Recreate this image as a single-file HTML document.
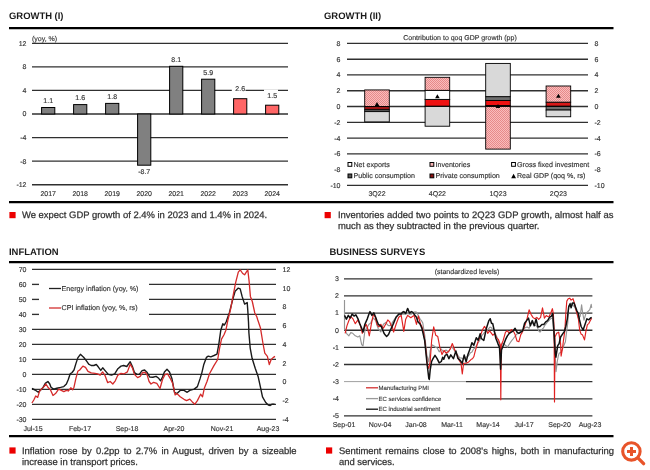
<!DOCTYPE html>
<html><head><meta charset="utf-8"><style>
html,body{margin:0;padding:0;background:#fff;width:650px;height:470px;overflow:hidden;}
body{position:relative;font-family:"Liberation Sans", sans-serif;text-rendering:geometricPrecision;}
text{text-rendering:geometricPrecision;}
svg{position:absolute;left:0;top:0;will-change:transform;}
.ax{font-family:"Liberation Sans", sans-serif;font-size:7px;fill:#333;stroke:#333;stroke-width:0.15px;}
.lg{font-family:"Liberation Sans", sans-serif;font-size:7.1px;fill:#333;stroke:#333;stroke-width:0.15px;}
.bl{font-family:"Liberation Sans", sans-serif;font-size:6px;fill:#333;stroke:#333;stroke-width:0.12px;}
.tt{font-family:"Liberation Sans", sans-serif;font-size:9.45px;font-weight:bold;fill:#1a1a1a;}
.p{position:absolute;font-size:9.45px;line-height:11.4px;color:#333;text-align:justify;white-space:nowrap;-webkit-text-stroke:0.25px #333;}
.p1{text-align-last:justify;white-space:normal;height:11.4px;overflow:visible;}
.p{will-change:transform;}
</style></head><body>
<svg width="650" height="470" viewBox="0 0 650 470">
<defs>
<pattern id="hatch" patternUnits="userSpaceOnUse" x="0" y="0" width="2" height="2">
<rect width="2" height="2" fill="#fabcbc"/><rect x="0" y="0" width="1" height="1" fill="#e68a8a"/><rect x="1" y="1" width="1" height="1" fill="#e68a8a"/>
</pattern>
</defs>
<line x1="9" y1="28.2" x2="613.5" y2="28.2" stroke="#000" stroke-width="2.2"/>
<line x1="9" y1="202.2" x2="613.5" y2="202.2" stroke="#000" stroke-width="2.2"/>
<line x1="9" y1="262.2" x2="613.5" y2="262.2" stroke="#000" stroke-width="2.2"/>
<line x1="9" y1="436.2" x2="613.5" y2="436.2" stroke="#000" stroke-width="2.2"/>
<line x1="32" y1="43.3" x2="288" y2="43.3" stroke="#303030" stroke-width="1.35"/>
<text x="26.5" y="45.7" text-anchor="end" class="ax">12</text>
<line x1="32" y1="66.9" x2="288" y2="66.9" stroke="#303030" stroke-width="1.35"/>
<text x="26.5" y="69.3" text-anchor="end" class="ax">8</text>
<line x1="32" y1="90.4" x2="288" y2="90.4" stroke="#303030" stroke-width="1.35"/>
<text x="26.5" y="92.8" text-anchor="end" class="ax">4</text>
<line x1="32" y1="114.0" x2="288" y2="114.0" stroke="#303030" stroke-width="1.35"/>
<text x="26.5" y="116.4" text-anchor="end" class="ax">0</text>
<line x1="32" y1="137.6" x2="288" y2="137.6" stroke="#303030" stroke-width="1.35"/>
<text x="26.5" y="140.0" text-anchor="end" class="ax">-4</text>
<line x1="32" y1="161.1" x2="288" y2="161.1" stroke="#303030" stroke-width="1.35"/>
<text x="26.5" y="163.5" text-anchor="end" class="ax">-8</text>
<line x1="32" y1="184.7" x2="288" y2="184.7" stroke="#303030" stroke-width="1.35"/>
<text x="26.5" y="187.1" text-anchor="end" class="ax">-12</text>
<text x="32" y="40.5" class="ax">(yoy, %)</text>
<rect x="41.6" y="107.5" width="13.2" height="6.5" fill="#808080" stroke="#000" stroke-width="1"/>
<text x="48.2" y="102.9" text-anchor="middle" class="ax">1.1</text>
<text x="48.2" y="196" text-anchor="middle" class="ax">2017</text>
<rect x="73.6" y="104.6" width="13.2" height="9.4" fill="#808080" stroke="#000" stroke-width="1"/>
<text x="80.2" y="100.0" text-anchor="middle" class="ax">1.6</text>
<text x="80.2" y="196" text-anchor="middle" class="ax">2018</text>
<rect x="105.6" y="103.4" width="13.2" height="10.6" fill="#808080" stroke="#000" stroke-width="1"/>
<text x="112.2" y="98.8" text-anchor="middle" class="ax">1.8</text>
<text x="112.2" y="196" text-anchor="middle" class="ax">2019</text>
<rect x="137.6" y="114.0" width="13.2" height="51.2" fill="#808080" stroke="#000" stroke-width="1"/>
<text x="144.2" y="174.2" text-anchor="middle" class="ax">-8.7</text>
<text x="144.2" y="196" text-anchor="middle" class="ax">2020</text>
<rect x="169.6" y="66.3" width="13.2" height="47.7" fill="#808080" stroke="#000" stroke-width="1"/>
<text x="176.2" y="61.7" text-anchor="middle" class="ax">8.1</text>
<text x="176.2" y="196" text-anchor="middle" class="ax">2021</text>
<rect x="201.6" y="79.2" width="13.2" height="34.8" fill="#808080" stroke="#000" stroke-width="1"/>
<text x="208.2" y="74.6" text-anchor="middle" class="ax">5.9</text>
<text x="208.2" y="196" text-anchor="middle" class="ax">2022</text>
<rect x="233.6" y="98.7" width="13.2" height="15.3" fill="#ff6666" stroke="#000" stroke-width="1"/>
<rect x="231.8" y="84" width="13.7" height="8" fill="#fff"/>
<text x="240.2" y="91.2" text-anchor="middle" class="ax">2.6</text>
<text x="240.2" y="196" text-anchor="middle" class="ax">2023</text>
<rect x="265.6" y="105.2" width="13.2" height="8.8" fill="#ff6666" stroke="#000" stroke-width="1"/>
<rect x="264" y="89.5" width="14" height="9" fill="#fff"/>
<text x="272.2" y="97.9" text-anchor="middle" class="ax">1.5</text>
<text x="272.2" y="196" text-anchor="middle" class="ax">2024</text>
<line x1="347" y1="43.4" x2="588" y2="43.4" stroke="#303030" stroke-width="1.35"/>
<text x="340.5" y="45.8" text-anchor="end" class="ax">8</text>
<text x="594.5" y="45.8" class="ax">8</text>
<line x1="347" y1="59.2" x2="588" y2="59.2" stroke="#303030" stroke-width="1.35"/>
<text x="340.5" y="61.6" text-anchor="end" class="ax">6</text>
<text x="594.5" y="61.6" class="ax">6</text>
<line x1="347" y1="74.9" x2="588" y2="74.9" stroke="#303030" stroke-width="1.35"/>
<text x="340.5" y="77.3" text-anchor="end" class="ax">4</text>
<text x="594.5" y="77.3" class="ax">4</text>
<line x1="347" y1="90.7" x2="588" y2="90.7" stroke="#303030" stroke-width="1.35"/>
<text x="340.5" y="93.1" text-anchor="end" class="ax">2</text>
<text x="594.5" y="93.1" class="ax">2</text>
<line x1="347" y1="106.5" x2="588" y2="106.5" stroke="#303030" stroke-width="1.35"/>
<text x="340.5" y="108.9" text-anchor="end" class="ax">0</text>
<text x="594.5" y="108.9" class="ax">0</text>
<line x1="347" y1="122.3" x2="588" y2="122.3" stroke="#303030" stroke-width="1.35"/>
<text x="340.5" y="124.7" text-anchor="end" class="ax">-2</text>
<text x="594.5" y="124.7" class="ax">-2</text>
<line x1="347" y1="138.1" x2="588" y2="138.1" stroke="#303030" stroke-width="1.35"/>
<text x="340.5" y="140.5" text-anchor="end" class="ax">-4</text>
<text x="594.5" y="140.5" class="ax">-4</text>
<line x1="347" y1="153.8" x2="588" y2="153.8" stroke="#303030" stroke-width="1.35"/>
<text x="340.5" y="156.2" text-anchor="end" class="ax">-6</text>
<text x="594.5" y="156.2" class="ax">-6</text>
<text x="340.5" y="172.0" text-anchor="end" class="ax">-8</text>
<text x="594.5" y="172.0" class="ax">-8</text>
<line x1="347" y1="185.4" x2="588" y2="185.4" stroke="#303030" stroke-width="1.35"/>
<text x="340.5" y="187.8" text-anchor="end" class="ax">-10</text>
<text x="594.5" y="187.8" class="ax">-10</text>
<text x="460" y="40" text-anchor="middle" class="ax">Contribution to qoq GDP growth (pp)</text>
<rect x="364.7" y="89.93" width="24.6" height="16.57" fill="url(#hatch)" stroke="#000" stroke-width="0.9"/>
<rect x="364.7" y="106.50" width="24.6" height="3.31" fill="#9a1515" stroke="#000" stroke-width="0.9"/>
<rect x="364.7" y="109.81" width="24.6" height="1.81" fill="#6e6e6e" stroke="#000" stroke-width="0.9"/>
<rect x="364.7" y="111.63" width="24.6" height="10.26" fill="#d9d9d9" stroke="#000" stroke-width="0.9"/>
<path d="M374.7,106.1 L377.0,102.1 L379.3,106.1 Z" fill="#000"/>
<rect x="425.1" y="106.11" width="24.6" height="0.39" fill="#9a1515" stroke="#000" stroke-width="0.9"/>
<rect x="425.1" y="99.40" width="24.6" height="6.71" fill="#ee1111" stroke="#000" stroke-width="0.9"/>
<rect x="425.1" y="90.33" width="24.6" height="9.07" fill="#fff" stroke="#000" stroke-width="0.9"/>
<rect x="425.1" y="77.31" width="24.6" height="13.02" fill="url(#hatch)" stroke="#000" stroke-width="0.9"/>
<rect x="425.1" y="106.50" width="24.6" height="19.72" fill="#d9d9d9" stroke="#000" stroke-width="0.9"/>
<path d="M435.1,98.2 L437.4,94.2 L439.7,98.2 Z" fill="#000"/>
<rect x="485.7" y="105.55" width="24.6" height="0.95" fill="#9a1515" stroke="#000" stroke-width="0.9"/>
<rect x="485.7" y="100.42" width="24.6" height="5.13" fill="#ee1111" stroke="#000" stroke-width="0.9"/>
<rect x="485.7" y="96.64" width="24.6" height="3.79" fill="#6e6e6e" stroke="#000" stroke-width="0.9"/>
<rect x="485.7" y="63.42" width="24.6" height="33.22" fill="#d9d9d9" stroke="#000" stroke-width="0.9"/>
<rect x="485.7" y="106.50" width="24.6" height="42.61" fill="url(#hatch)" stroke="#000" stroke-width="0.9"/>
<path d="M495.7,108.1 L498.0,104.1 L500.3,108.1 Z" fill="#000"/>
<rect x="546.1" y="106.11" width="24.6" height="0.39" fill="#9a1515" stroke="#000" stroke-width="0.9"/>
<rect x="546.1" y="102.16" width="24.6" height="3.95" fill="#d81818" stroke="#000" stroke-width="0.9"/>
<rect x="546.1" y="85.99" width="24.6" height="16.17" fill="url(#hatch)" stroke="#000" stroke-width="0.9"/>
<rect x="546.1" y="106.50" width="24.6" height="3.55" fill="#6e6e6e" stroke="#000" stroke-width="0.9"/>
<rect x="546.1" y="110.05" width="24.6" height="6.71" fill="#d9d9d9" stroke="#000" stroke-width="0.9"/>
<path d="M556.1,97.8 L558.4,93.8 L560.7,97.8 Z" fill="#000"/>
<text x="377.0" y="196" text-anchor="middle" class="ax">3Q22</text>
<text x="437.4" y="196" text-anchor="middle" class="ax">4Q22</text>
<text x="498.0" y="196" text-anchor="middle" class="ax">1Q23</text>
<text x="558.4" y="196" text-anchor="middle" class="ax">2Q23</text>
<rect x="346" y="158" width="242" height="24" fill="#fff"/>
<rect x="348.0" y="162.5" width="3.8" height="3.8" fill="#fff" stroke="#000" stroke-width="1"/>
<text x="353.5" y="166.8" class="lg">Net exports</text>
<rect x="430.0" y="162.5" width="3.8" height="3.8" fill="#f8b4b4" stroke="#000" stroke-width="1"/>
<text x="435.5" y="166.8" class="lg">Inventories</text>
<rect x="511.6" y="162.5" width="3.8" height="3.8" fill="#fff" stroke="#000" stroke-width="1"/>
<text x="517.1" y="166.8" class="lg">Gross fixed investment</text>
<rect x="348.0" y="174.0" width="3.8" height="3.8" fill="#555" stroke="#000" stroke-width="1"/>
<text x="353.5" y="178.3" class="lg">Public consumption</text>
<rect x="430.0" y="174.0" width="3.8" height="3.8" fill="#8a1010" stroke="#000" stroke-width="1"/>
<text x="435.5" y="178.3" class="lg">Private consumption</text>
<path d="M511.2,178.2 L513.6,173.8 L516,178.2 Z" fill="#000"/>
<text x="517" y="178.3" class="lg">Real GDP (qoq %, rs)</text>
<line x1="32" y1="269.4" x2="276" y2="269.4" stroke="#303030" stroke-width="1.35"/>
<text x="26.5" y="271.8" text-anchor="end" class="ax">70</text>
<line x1="32" y1="284.4" x2="39" y2="284.4" stroke="#303030" stroke-width="1.35"/>
<line x1="149" y1="284.4" x2="276" y2="284.4" stroke="#303030" stroke-width="1.35"/>
<text x="26.5" y="286.8" text-anchor="end" class="ax">60</text>
<line x1="32" y1="299.4" x2="39" y2="299.4" stroke="#303030" stroke-width="1.35"/>
<line x1="149" y1="299.4" x2="276" y2="299.4" stroke="#303030" stroke-width="1.35"/>
<text x="26.5" y="301.8" text-anchor="end" class="ax">50</text>
<line x1="32" y1="314.4" x2="39" y2="314.4" stroke="#303030" stroke-width="1.35"/>
<line x1="149" y1="314.4" x2="276" y2="314.4" stroke="#303030" stroke-width="1.35"/>
<text x="26.5" y="316.8" text-anchor="end" class="ax">40</text>
<line x1="32" y1="329.4" x2="276" y2="329.4" stroke="#303030" stroke-width="1.35"/>
<text x="26.5" y="331.8" text-anchor="end" class="ax">30</text>
<line x1="32" y1="344.4" x2="276" y2="344.4" stroke="#303030" stroke-width="1.35"/>
<text x="26.5" y="346.8" text-anchor="end" class="ax">20</text>
<line x1="32" y1="359.4" x2="276" y2="359.4" stroke="#303030" stroke-width="1.35"/>
<text x="26.5" y="361.8" text-anchor="end" class="ax">10</text>
<line x1="32" y1="374.4" x2="276" y2="374.4" stroke="#303030" stroke-width="1.35"/>
<text x="26.5" y="376.8" text-anchor="end" class="ax">0</text>
<line x1="32" y1="389.4" x2="276" y2="389.4" stroke="#303030" stroke-width="1.35"/>
<text x="26.5" y="391.8" text-anchor="end" class="ax">-10</text>
<line x1="32" y1="404.4" x2="276" y2="404.4" stroke="#303030" stroke-width="1.35"/>
<text x="26.5" y="406.8" text-anchor="end" class="ax">-20</text>
<line x1="32" y1="419.4" x2="276" y2="419.4" stroke="#303030" stroke-width="1.35"/>
<text x="26.5" y="421.8" text-anchor="end" class="ax">-30</text>
<text x="282.5" y="271.8" class="ax">12</text>
<text x="282.5" y="290.5" class="ax">10</text>
<text x="282.5" y="309.3" class="ax">8</text>
<text x="282.5" y="328.0" class="ax">6</text>
<text x="282.5" y="346.8" class="ax">4</text>
<text x="282.5" y="365.5" class="ax">2</text>
<text x="282.5" y="384.3" class="ax">0</text>
<text x="282.5" y="403.0" class="ax">-2</text>
<text x="282.5" y="421.8" class="ax">-4</text>
<text x="33" y="430.5" text-anchor="middle" class="ax">Jul-15</text>
<text x="80" y="430.5" text-anchor="middle" class="ax">Feb-17</text>
<text x="127" y="430.5" text-anchor="middle" class="ax">Sep-18</text>
<text x="174" y="430.5" text-anchor="middle" class="ax">Apr-20</text>
<text x="222" y="430.5" text-anchor="middle" class="ax">Nov-21</text>
<text x="268" y="430.5" text-anchor="middle" class="ax">Aug-23</text>
<line x1="49" y1="288.5" x2="61" y2="288.5" stroke="#222" stroke-width="1.3"/>
<text x="61.5" y="290.9" class="ax" style="font-size:7.15px">Energy inflation (yoy, %)</text>
<line x1="49" y1="308" x2="61" y2="308" stroke="#d32f2f" stroke-width="1.3"/>
<text x="61.5" y="310.4" class="ax" style="font-size:7.15px">CPI inflation (yoy, %, rs)</text>
<polyline points="31.9,388.5 35.1,390.0 38.3,392.3 40.2,390.4 42.8,387.8 45.3,383.4 47.9,381.5 49.8,384.0 51.0,387.2 53.6,389.1 56.8,388.2 60.6,387.4 63.8,386.6 66.4,384.0 68.3,379.5 70.2,373.8 72.1,372.5 74.0,370.0 75.9,363.6 77.8,357.9 80.4,354.3 83.6,357.2 86.1,360.4 88.7,364.2 91.2,365.5 93.8,365.5 96.3,364.5 98.2,366.8 100.8,370.4 102.7,367.8 105.1,370.6 108.3,374.4 111.5,375.1 114.7,373.8 117.9,368.7 121.0,366.1 123.6,365.5 126.8,366.5 130.2,361.7 132.5,366.8 134.4,372.5 137.0,374.4 139.5,374.2 142.1,370.6 144.6,370.0 147.2,372.5 149.7,377.0 152.9,377.2 156.1,376.4 158.7,378.3 160.6,380.8 162.5,377.0 164.4,371.9 167.0,369.3 169.5,371.9 171.9,378.5 174.5,392.3 177.0,393.6 180.2,390.4 184.0,390.4 187.2,392.3 189.8,390.4 194.2,389.1 197.4,386.6 200.0,378.9 201.9,372.6 203.8,364.4 206.4,357.4 208.3,356.1 210.8,356.8 214.0,355.5 217.0,354.2 218.9,343.6 220.8,330.2 222.8,323.8 224.3,325.1 226.1,322.0 229.3,313.0 232.5,300.3 235.1,291.3 238.3,288.1 240.2,288.8 242.1,296.4 244.6,304.1 247.2,302.6 247.8,310.5 248.5,322.0 248.9,332.8 250.2,348.1 252.1,358.3 255.3,368.5 258.1,376.4 260.6,387.9 262.5,396.8 265.7,402.5 268.3,405.1 270.2,405.5 272.1,404.2 274.6,404.2" fill="none" stroke="#1a1a1a" stroke-width="1.4" stroke-linejoin="round"/>
<polyline points="31.9,403.0 33.8,400.0 35.7,396.0 37.7,397.4 39.6,391.0 41.5,389.1 44.0,386.6 45.9,384.0 47.9,387.2 50.4,389.7 53.0,395.5 55.5,393.6 58.7,389.1 61.3,390.4 63.8,391.7 66.4,390.4 68.3,391.0 70.8,387.8 72.7,389.7 74.0,387.2 75.9,378.3 77.8,371.3 79.7,370.0 82.9,366.1 85.5,367.4 88.0,371.3 91.2,372.9 95.0,373.4 97.6,373.8 100.2,375.1 102.6,371.9 105.1,375.7 107.7,382.7 110.2,381.5 112.8,384.0 115.3,380.8 117.9,375.1 121.0,373.4 124.2,373.8 127.4,371.9 130.2,364.2 132.5,368.1 134.4,374.4 137.6,377.6 140.2,376.4 142.7,372.5 145.3,372.5 147.2,375.1 149.1,381.5 151.0,384.0 153.6,382.3 156.8,383.4 160.0,388.5 162.5,379.5 165.1,374.4 167.6,373.8 170.2,378.3 172.7,383.4 175.1,394.9 177.0,393.6 180.2,396.8 184.0,399.3 186.6,400.6 189.8,399.1 192.3,401.9 194.9,404.2 197.4,400.6 200.6,394.2 202.5,396.8 204.4,387.9 207.0,381.5 209.5,373.8 213.8,365.9 217.7,359.5 219.6,348.1 221.5,339.1 224.0,334.7 225.9,330.2 227.9,320.0 230.6,309.2 233.2,295.2 235.7,282.4 238.3,272.2 240.2,269.9 242.7,273.5 244.6,274.8 246.6,271.6 247.8,269.9 249.1,281.1 250.4,296.4 252.3,301.5 254.8,313.0 256.8,316.8 257.8,320.0 260.4,327.7 262.9,343.0 264.8,353.2 267.4,356.4 269.3,364.6 271.2,359.5 273.1,357.6 275.0,356.4" fill="none" stroke="#d42a2a" stroke-width="1.3" stroke-linejoin="round"/>
<line x1="344" y1="278.8" x2="592.4" y2="278.8" stroke="#303030" stroke-width="1.35"/>
<text x="339" y="281.1" text-anchor="end" class="ax">3</text>
<line x1="344" y1="295.9" x2="592.4" y2="295.9" stroke="#303030" stroke-width="1.35"/>
<text x="339" y="298.3" text-anchor="end" class="ax">2</text>
<line x1="344" y1="313.1" x2="592.4" y2="313.1" stroke="#303030" stroke-width="1.35"/>
<text x="339" y="315.4" text-anchor="end" class="ax">1</text>
<line x1="344" y1="330.2" x2="592.4" y2="330.2" stroke="#303030" stroke-width="1.35"/>
<text x="339" y="332.6" text-anchor="end" class="ax">0</text>
<line x1="344" y1="347.3" x2="592.4" y2="347.3" stroke="#303030" stroke-width="1.35"/>
<text x="339" y="349.7" text-anchor="end" class="ax">-1</text>
<line x1="344" y1="364.5" x2="592.4" y2="364.5" stroke="#303030" stroke-width="1.35"/>
<text x="339" y="366.9" text-anchor="end" class="ax">-2</text>
<line x1="344" y1="381.6" x2="466" y2="381.6" stroke="#777" stroke-width="0.7"/>
<line x1="466" y1="381.6" x2="592.4" y2="381.6" stroke="#303030" stroke-width="1.35"/>
<text x="339" y="384.0" text-anchor="end" class="ax">-3</text>
<line x1="466" y1="398.8" x2="592.4" y2="398.8" stroke="#303030" stroke-width="1.35"/>
<text x="339" y="401.2" text-anchor="end" class="ax">-4</text>
<line x1="344" y1="415.9" x2="592.4" y2="415.9" stroke="#303030" stroke-width="1.35"/>
<text x="339" y="418.3" text-anchor="end" class="ax">-5</text>
<text x="467" y="274" text-anchor="middle" class="ax">(standardized levels)</text>
<text x="344" y="426.8" text-anchor="middle" class="ax">Sep-01</text>
<text x="380" y="426.8" text-anchor="middle" class="ax">Nov-04</text>
<text x="416" y="426.8" text-anchor="middle" class="ax">Jan-08</text>
<text x="452" y="426.8" text-anchor="middle" class="ax">Mar-11</text>
<text x="488" y="426.8" text-anchor="middle" class="ax">May-14</text>
<text x="524" y="426.8" text-anchor="middle" class="ax">Jul-17</text>
<text x="559.6" y="426.8" text-anchor="middle" class="ax">Sep-20</text>
<text x="590" y="426.8" text-anchor="middle" class="ax">Aug-23</text>
<line x1="366" y1="387.8" x2="378" y2="387.8" stroke="#d32f2f" stroke-width="1.3"/>
<text x="378.6" y="389.9" class="bl">Manufacturing PMI</text>
<line x1="366" y1="398.6" x2="378" y2="398.6" stroke="#9a9a9a" stroke-width="1.3"/>
<text x="378.6" y="400.7" class="bl">EC services confidence</text>
<line x1="366" y1="409.2" x2="378" y2="409.2" stroke="#111" stroke-width="1.3"/>
<text x="378.6" y="411.3" class="bl">EC industrial sentiment</text>
<polyline points="344.5,300.1 344.5,328.2 346.4,333.3 348.9,335.8 350.8,332.6 352.8,333.3 355.3,335.8 357.9,337.1 359.8,335.8 361.7,344.7 363.0,346.0 364.9,330.7 367.4,326.9 369.0,324.3 370.6,323.1 373.2,318.0 375.7,320.5 377.0,325.3 378.3,328.8 380.8,332.0 383.4,324.3 385.9,322.4 387.2,324.5 388.5,325.6 391.0,325.6 392.3,322.6 393.6,320.5 396.1,316.7 398.7,314.8 400.4,314.6 402.1,314.2 403.8,314.1 405.7,314.1 407.6,313.5 409.5,314.3 411.4,314.1 413.1,312.7 414.7,311.9 416.4,312.1 418.9,316.6 420.2,319.3 421.5,320.7 422.8,323.0 424.7,335.0 426.8,354.6 428.8,362.0 430.2,350.4 432.3,344.9 434.4,346.3 435.8,347.5 437.1,347.7 439.2,351.8 441.3,349.0 443.5,352.0 446.0,350.0 448.5,352.0 451.0,347.0 452.5,347.6 454.0,350.0 455.5,351.9 457.0,354.0 458.5,356.4 460.0,358.0 461.5,358.0 463.0,359.0 464.5,358.8 466.0,357.0 467.5,356.7 469.0,355.0 470.5,352.7 472.0,352.0 473.5,349.1 475.0,348.0 476.5,345.6 478.0,343.0 479.5,340.8 481.0,337.0 482.5,334.8 484.0,333.0 485.5,331.5 487.0,331.0 488.5,328.9 490.0,327.0 491.5,327.7 493.0,330.0 494.5,332.0 496.0,335.0 498.5,341.0 500.5,349.0 502.5,343.0 505.0,345.0 507.5,347.0 510.0,343.0 511.5,340.9 513.0,339.0 514.5,337.0 516.0,335.0 517.5,333.5 519.0,333.0 520.5,331.5 522.0,331.0 523.3,329.0 524.6,328.0 525.9,327.4 527.2,327.0 529.1,328.3 531.0,323.2 532.3,323.4 533.6,324.4 536.1,325.7 537.4,327.4 538.7,330.8 540.0,332.2 541.9,329.4 543.3,328.1 544.8,325.5 546.2,323.7 547.7,321.7 549.1,320.5 550.5,318.8 552.4,317.9 553.9,334.1 555.1,353.3 556.0,371.6 557.2,362.0 558.3,356.0 559.1,353.3 561.1,352.3 563.0,347.5 565.4,341.8 566.3,334.1 567.8,322.7 568.7,306.0 570.6,303.0 572.5,304.9 574.4,306.8 576.4,310.6 578.3,318.3 580.2,316.4 581.6,304.9 582.6,312.5 584.0,320.2 585.9,313.5 587.8,311.6 589.8,309.7 591.2,304.4 591.7,307.8" fill="none" stroke="#959595" stroke-width="1.15" stroke-linejoin="round"/>
<polyline points="345.1,333.3 347.0,325.6 348.9,320.5 350.8,316.7 352.8,318.6 355.3,323.7 357.9,319.9 360.4,325.6 362.3,333.3 364.2,328.2 366.1,324.3 367.4,327.5 369.3,335.8 371.3,324.3 373.2,314.8 375.1,316.7 377.0,324.3 378.9,326.9 380.8,324.3 383.4,328.2 385.9,323.7 387.8,319.9 389.7,321.8 391.0,325.4 392.3,326.9 393.6,332.0 396.1,324.3 398.7,317.3 401.2,315.4 403.8,331.4 405.7,319.2 407.6,315.4 409.5,316.7 410.8,317.7 412.1,316.7 414.0,315.4 416.5,324.3 418.3,316.0 420.5,324.1 421.9,326.6 423.3,331.1 425.4,344.9 427.4,365.6 428.8,368.4 430.2,361.5 431.6,340.7 433.7,326.9 435.7,335.2 437.8,336.6 439.9,347.7 442.0,354.6 444.0,350.4 446.1,353.2 448.2,351.8 450.3,349.0 452.3,343.5 454.4,349.0 455.9,353.0 457.2,355.2 458.5,359.3 461.0,363.2 462.3,374.0 463.6,363.2 466.1,363.2 468.7,361.9 471.2,359.3 472.5,358.8 473.8,356.8 475.1,351.7 477.6,342.8 480.2,336.4 482.6,329.5 484.5,326.4 486.4,329.5 487.7,333.4 489.6,330.8 491.5,333.4 492.8,335.3 494.7,333.4 496.6,337.8 498.5,339.7 500.3,345.0 500.8,399.8 501.3,345.0 503.0,341.0 505.5,332.1 507.4,330.8 509.3,333.4 511.3,329.5 513.2,330.8 515.1,334.6 517.0,341.0 518.9,341.7 520.8,334.6 522.1,332.6 523.4,329.5 525.3,324.4 527.2,318.1 529.1,309.8 531.0,314.2 532.9,317.4 534.8,318.7 536.8,317.4 538.7,319.3 540.6,317.4 542.5,307.9 544.4,318.1 546.3,315.5 547.6,316.5 548.9,316.8 550.8,313.0 552.4,308.7 553.4,314.4 554.1,330.0 554.5,402.0 555.0,337.0 556.7,333.2 558.7,332.2 559.6,338.0 560.6,343.7 561.1,356.1 562.5,348.5 563.4,340.8 564.9,330.3 565.8,313.5 566.8,301.1 568.2,298.7 569.7,298.2 571.1,300.1 573.0,298.7 574.4,303.0 576.4,311.6 578.3,318.3 579.7,330.3 581.1,334.1 582.6,335.1 584.5,339.9 585.9,331.3 587.4,324.6 588.8,323.6 590.2,320.7 591.7,318.3" fill="none" stroke="#e02020" stroke-width="1.15" stroke-linejoin="round"/>
<polyline points="344.5,315.4 346.4,319.2 348.3,315.4 350.2,318.0 352.1,314.1 354.0,316.0 355.9,314.8 357.9,318.6 359.8,323.7 361.7,328.2 363.0,332.0 364.9,324.3 367.4,318.6 368.7,314.7 370.0,311.6 371.9,315.4 373.8,312.9 375.7,317.3 377.0,320.9 378.3,324.3 379.9,325.4 381.5,326.9 384.0,333.3 385.3,335.1 386.6,336.5 388.5,334.5 391.0,328.8 392.3,326.2 393.6,323.1 396.1,317.3 398.7,314.1 401.2,314.1 402.5,312.2 403.8,311.6 405.7,313.5 407.6,308.4 409.5,312.9 411.4,311.6 412.7,312.1 414.0,314.1 416.5,317.3 417.8,321.4 420.0,324.0 421.9,328.3 424.7,340.7 426.8,361.5 428.8,378.5 429.3,379.5 430.2,369.8 431.6,361.5 433.0,358.7 435.0,355.3 437.1,358.7 439.2,362.9 441.3,361.5 442.7,357.3 443.8,359.3 445.1,355.5 447.0,354.2 448.9,358.7 450.8,354.9 453.4,358.7 455.9,351.0 457.8,358.1 460.4,360.6 462.3,363.2 464.2,354.9 466.1,361.9 468.0,354.2 470.0,349.1 471.9,342.8 473.8,345.3 476.3,337.7 478.2,340.2 480.2,333.8 481.3,338.5 483.8,340.4 486.4,328.3 488.9,320.6 490.2,318.7 491.5,323.2 492.8,323.8 494.0,329.5 495.9,338.5 497.9,343.6 499.5,347.4 500.6,369.2 501.5,350.0 503.6,344.8 505.5,339.7 507.4,335.9 509.3,333.4 511.3,332.1 513.2,330.8 515.1,328.3 517.0,332.1 518.9,333.4 520.8,332.1 522.7,330.8 524.6,323.2 526.6,320.6 528.5,318.1 530.4,325.7 532.3,320.6 534.2,325.7 536.1,319.3 538.0,327.0 540.0,326.5 541.9,324.4 543.8,324.5 545.7,321.9 547.6,320.6 549.5,317.4 551.4,316.1 552.7,313.5 553.4,322.7 554.4,338.9 555.3,353.3 555.9,357.2 557.7,345.6 559.1,343.7 560.6,337.0 562.5,334.1 564.4,331.3 565.8,326.5 567.3,318.8 568.7,306.8 570.1,303.9 571.1,307.8 572.5,303.0 574.0,303.0 575.4,306.8 576.8,310.6 578.3,313.5 579.5,320.0 581.1,326.5 583.1,330.0 585.0,324.6 586.9,318.8 588.8,319.8 590.7,317.9 591.7,317.3" fill="none" stroke="#111" stroke-width="1.5" stroke-linejoin="round"/>
<circle cx="631.4" cy="451.4" r="8.7" fill="#fff" stroke="#e8542a" stroke-width="3.1"/>
<line x1="638.4" y1="458.4" x2="643.6" y2="463.6" stroke="#e8542a" stroke-width="3.4" stroke-linecap="round"/>
<rect x="627" y="450" width="9" height="3" fill="#e8542a"/>
<rect x="630" y="447" width="3" height="9" fill="#e8542a"/>
<rect x="9.4" y="212" width="6.2" height="6.2" fill="#ec0000"/>
<rect x="324.6" y="212" width="6.2" height="6.2" fill="#ec0000"/>
<rect x="9.4" y="447.4" width="6.2" height="6.2" fill="#ec0000"/>
<rect x="326" y="447.4" width="6.2" height="6.2" fill="#ec0000"/>
<text x="9" y="19" class="tt">GROWTH (I)</text>
<text x="324" y="19" class="tt">GROWTH (II)</text>
<text x="9" y="255.3" class="tt">INFLATION</text>
<text x="329.4" y="255.3" class="tt">BUSINESS SURVEYS</text>
</svg>
<div class="p" style="left:22.4px;top:210.1px;width:280px;text-align:left;">We expect GDP growth of 2.4% in 2023 and 1.4% in 2024.</div>
<div class="p p1" style="left:337.6px;top:210.1px;width:275.4px;">Inventories added two points to 2Q23 GDP growth, almost half as</div>
<div class="p" style="left:337.6px;top:221px;width:275.4px;text-align:left;">much as they subtracted in the previous quarter.</div>
<div class="p p1" style="left:22.4px;top:445.6px;width:274.6px;">Inflation rose by 0.2pp to 2.7% in August, driven by a sizeable</div>
<div class="p" style="left:22.4px;top:456.6px;width:274.6px;text-align:left;">increase in transport prices.</div>
<div class="p p1" style="left:338.6px;top:445.6px;width:275px;">Sentiment remains close to 2008's highs, both in manufacturing</div>
<div class="p" style="left:338.6px;top:456.6px;width:275px;text-align:left;">and services.</div>
</body></html>
